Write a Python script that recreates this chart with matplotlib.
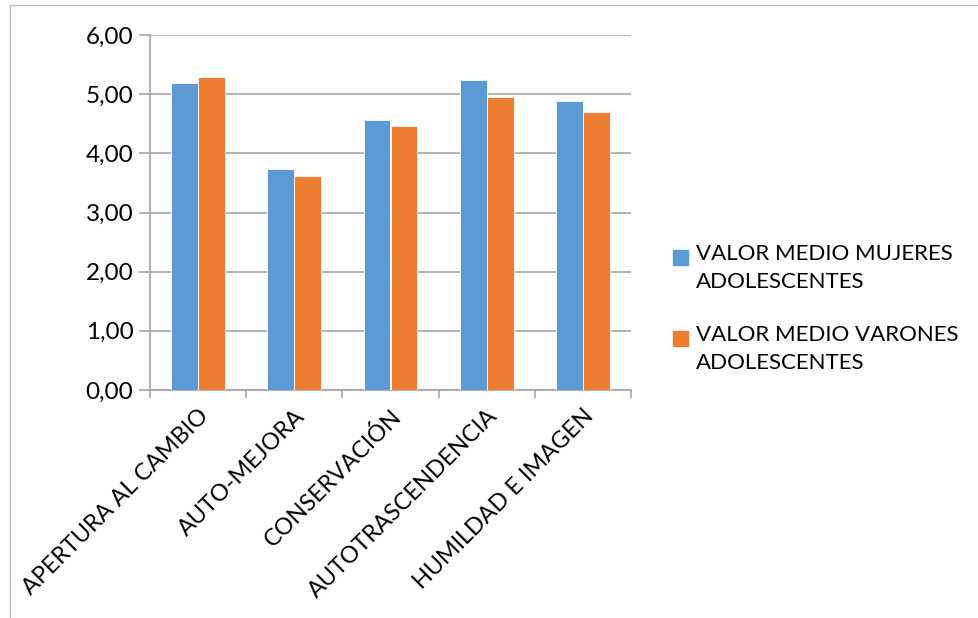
import matplotlib.pyplot as plt
import numpy as np
from matplotlib.lines import Line2D
from matplotlib.patches import Rectangle

# ── Data ──────────────────────────────────────────────────────────────────────
categories = ["APERTURA AL CAMBIO", "AUTO-MEJORA", "CONSERVACIÓN",
              "AUTOTRASCENDENCIA", "HUMILDAD E IMAGEN"]
mujeres = [5.19, 3.73, 4.56, 5.24, 4.88]
varones = [5.29, 3.61, 4.47, 4.96, 4.70]
series_labels = ["VALOR MEDIO MUJERES\nADOLESCENTES",
                 "VALOR MEDIO VARONES\nADOLESCENTES"]
yticks = [0, 1, 2, 3, 4, 5, 6]

BLUE = "#5b9bd5"
ORANGE = "#ed7d31"
GRID = "#a6a6a6"

plt.rcParams["font.family"] = ["Lato", "DejaVu Sans"]

fig = plt.figure(figsize=(9.79, 6.18), dpi=100)
ax = fig.add_axes([150 / 979, 1 - 390 / 618, 481 / 979, 355 / 618])

x = np.arange(len(categories))
w = 0.28
ax.bar(x - w / 2, mujeres, w, color=BLUE, edgecolor="white", linewidth=0.6, zorder=3)
ax.bar(x + w / 2, varones, w, color=ORANGE, edgecolor="white", linewidth=0.6, zorder=3)

ax.set_xlim(-0.5, len(categories) - 0.5)
ax.set_ylim(0, 6)
ax.set_yticks(yticks)
ax.set_yticklabels([f"{v:.2f}".replace(".", ",") for v in yticks], fontsize=17.5)
ax.yaxis.grid(True, color=GRID, linewidth=1.2, zorder=0)

# category ticks between groups, labels at centers
ax.set_xticks(np.arange(-0.5, len(categories)), minor=False)
ax.set_xticklabels([])
ax.set_xticks(x, minor=True)
ax.set_xticklabels(categories, minor=True, rotation=45, ha="right",
                   rotation_mode="anchor", fontsize=16.8)
ax.tick_params(axis="x", which="minor", length=0, pad=11)
ax.tick_params(axis="x", which="major", length=6, color=GRID, width=1.2)
ax.tick_params(axis="y", length=8, color=GRID, width=1.2, pad=4)

for s in ["top", "right"]:
    ax.spines[s].set_visible(False)
for s in ["left", "bottom"]:
    ax.spines[s].set_color(GRID)
    ax.spines[s].set_linewidth(1.2)

# legend: swatch aligned with the first line of each label
for i, (lab, col) in enumerate(zip(series_labels, [BLUE, ORANGE])):
    top = 258 + i * 81
    fig.patches.append(Rectangle((673 / 979, 1 - (top + 7) / 618), 15 / 979, 15 / 618,
                                 transform=fig.transFigure, color=col))
    fig.text(696 / 979, 1 - (top - 14) / 618, lab, fontsize=16, va="top",
             ha="left", linespacing=1.5)

# outer chart border (top and left visible)
fig.add_artist(Line2D([10 / 979, 1], [1 - 5 / 618] * 2, transform=fig.transFigure,
                      color="#bfbfbf", linewidth=1))
fig.add_artist(Line2D([10 / 979] * 2, [0, 1 - 5 / 618], transform=fig.transFigure,
                      color="#bfbfbf", linewidth=1))

fig.savefig("out.png", dpi=100)
